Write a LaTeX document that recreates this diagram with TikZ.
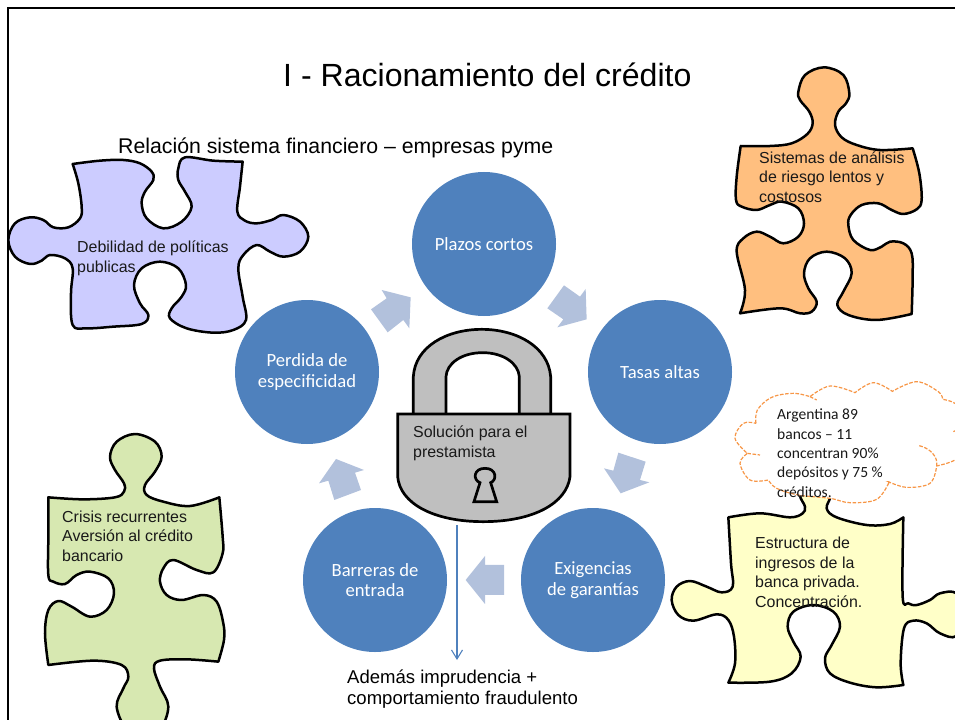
\documentclass[tikz,border=0pt]{standalone}
\usepackage{fontspec}
\setmainfont{Liberation Sans}
\newfontfamily\carlito{Carlito}
\usetikzlibrary{arrows.meta}
\definecolor{cblue}{HTML}{4F81BD}
\definecolor{arrowblue}{HTML}{B2C1DC}
\definecolor{linkblue}{HTML}{4F81BD}
\definecolor{lockgrey}{HTML}{BFBFBF}
\definecolor{pzpurple}{HTML}{CCCCFF}
\definecolor{pzorange}{HTML}{FFBF7F}
\definecolor{pzgreen}{HTML}{D7E8B1}
\definecolor{pzyellow}{HTML}{FFFFC8}
\definecolor{cloudor}{HTML}{F79646}
\tikzset{
  zoomed/.style 2 args={x=0.33333bp,y=-0.33333bp,shift={(#1bp,-#2bp)}},
  puzzle/.style={draw=black,line width=2.5bp,line join=round},
  sm/.style={smooth,tension=0.6},
  stage/.style={circle,fill=cblue,minimum size=144bp,inner sep=0pt,text=white,align=center,font=\carlito\fontsize{18.7}{20.5}\selectfont},
  flow/.style={fill=arrowblue,draw=none},
  body/.style={anchor=base west,inner sep=0pt,align=left,text=black!90,font=\fontsize{16}{19.5}\selectfont},
  cloudtext/.style={anchor=base west,inner sep=0pt,align=left,text=black!90,font=\carlito\fontsize{15.6}{19.4}\selectfont},
  big/.style={anchor=base west,inner sep=0pt,align=left,text=black,font=\fontsize{18.6}{21}\selectfont},
  cloudline/.style={draw=cloudor,line width=1.2bp,dash pattern=on 3.6bp off 1.6bp},
  lockpart/.style={fill=lockgrey,draw=black,line width=2.7bp,line join=miter},
}
\begin{document}
\begin{tikzpicture}[x=1bp,y=-1bp]
\useasboundingbox (0,0) rectangle (955,720);
\clip (0,0) rectangle (955,720);
% frame
\draw[line width=2.4bp,draw=black] (8,720) -- (8,8) -- (955,8);

% purple puzzle
\begin{scope}[zoomed={0}{140}]
\draw[puzzle,fill=pzpurple]
 plot[sm] coordinates {(218,72)(300,62)(370,60)(420,70)(455,95)(460,120)(435,155)(425,190)(440,235)(490,265)(545,245)(575,200)(555,155)(535,120)(535,85)(555,52)(640,62)(728,65)}
 -- plot[sm] coordinates {(728,65)(720,140)(712,215)(735,242)(770,250)(815,240)(850,225)(900,245)(925,290)(900,335)(850,350)(810,335)(770,315)(730,345)(715,385)(728,470)(738,540)(700,570)(640,578)(560,565)(510,535)(515,505)(545,470)(558,435)(535,385)(480,365)(425,385)(402,435)(420,490)(445,525)(425,552)(340,560)(260,565)(218,555)(213,460)(218,385)(195,355)(150,345)(125,362)(90,372)(45,350)(25,300)(45,250)(90,232)(130,240)(160,262)(205,262)(240,235)(245,200)(235,130)(218,72)} -- cycle;
\end{scope}

% orange puzzle
\begin{scope}[zoomed={720}{60}]
\draw[puzzle,fill=pzorange]
 plot[sm] coordinates {(62,258)(150,258)(215,250)(262,222)(278,190)(268,155)(240,120)(235,95)(255,45)(312,22)(370,45)(388,100)(378,130)(355,155)(345,195)(365,232)(410,255)(480,270)(578,265)}
 -- plot[sm] coordinates {(578,265)(598,340)(605,420)(590,448)(550,462)(515,450)(475,430)(425,435)(392,465)(385,495)(400,540)(450,570)(485,560)(510,545)(550,550)(575,580)(578,650)(575,762)}
 -- plot[sm] coordinates {(575,762)(470,780)(385,765)(352,735)(370,695)(395,640)(375,595)(320,575)(270,595)(252,640)(265,685)(290,725)(275,755)(240,760)(180,745)(60,760)}
 -- plot[sm] coordinates {(60,760)(75,690)(50,575)(70,535)(110,515)(150,530)(190,550)(235,530)(252,490)(235,445)(185,425)(150,435)(110,450)(65,440)(48,420)(50,350)(62,258)} -- cycle;
\end{scope}

% green puzzle
\begin{scope}[zoomed={0}{420}]
\draw[puzzle,fill=pzgreen]
 plot[sm] coordinates {(145,232)(250,238)(345,232)(372,215)(372,190)(345,150)(330,110)(350,65)(405,42)(465,65)(485,110)(465,155)(435,195)(440,225)(490,245)(570,258)(658,232)}
 -- plot[sm] coordinates {(658,232)(668,350)(668,400)(640,457)(590,450)(520,420)(490,445)(480,485)(500,525)(545,540)(610,525)(650,545)(670,610)(672,660)(655,725)}
 -- plot[sm] coordinates {(655,725)(560,718)(480,722)(462,745)(480,800)(505,860)(480,930)(430,960)(380,930)(350,860)(370,805)(385,770)(365,735)(280,722)(145,735)}
 -- plot[sm] coordinates {(145,735)(135,640)(145,570)(175,543)(215,560)(270,590)(320,570)(342,520)(325,475)(270,455)(230,465)(195,492)(160,485)(145,465)(145,350)(145,232)} -- cycle;
\end{scope}

% yellow puzzle
\begin{scope}[zoomed={660}{380}]
\draw[puzzle,fill=pzyellow]
 plot[sm] coordinates {(205,412)(300,400)(390,412)(428,400)(435,380)(420,345)(440,310)(490,310)(512,345)(500,385)(530,412)(620,435)(690,432)(730,412)}
 -- plot[sm] coordinates {(730,412)(728,650)(745,670)(770,675)(810,660)(840,640)(890,640)(925,700)(890,768)(840,760)(800,730)(760,722)(732,745)(722,850)(730,915)}
 -- plot[sm] coordinates {(730,915)(650,922)(570,908)(510,880)(495,835)(515,795)(540,740)(520,695)(460,675)(400,695)(383,740)(400,785)(422,830)(395,880)(330,905)(205,908)}
 -- plot[sm] coordinates {(205,908)(225,850)(222,770)(205,720)(170,703)(100,722)(55,705)(35,660)(50,620)(90,603)(140,620)(185,637)(218,620)(213,550)(205,412)} -- cycle;
% cloud
\draw[cloudline,fill=white]
 plot[sm] coordinates {(288,130)(292,90)(335,52)(400,40)(450,50)}
 -- plot[sm] coordinates {(450,50)(510,18)(585,38)}
 -- plot[sm] coordinates {(585,38)(640,8)(697,34)}
 -- plot[sm] coordinates {(697,34)(770,5)(835,35)(848,58)}
 -- plot[sm] coordinates {(848,58)(885,70)(925,110)(930,200)(885,240)(830,258)}
 -- plot[sm] coordinates {(830,258)(810,310)(740,322)(685,305)}
 -- plot[sm] coordinates {(688,305)(650,358)(570,368)(510,355)(415,345)(350,325)(325,300)}
 -- plot[sm] coordinates {(325,300)(270,300)(240,250)(262,220)}
 -- plot[sm] coordinates {(262,220)(225,175)(250,130)(288,130)} -- cycle;
\draw[cloudline] (450,50) -- (470,60);
\draw[cloudline] (778,197) .. controls (810,205) and (835,230) .. (830,258);
\draw[cloudline] (262,220) -- (300,225);
\draw[cloudline] (880,155) -- (890,150);
\end{scope}

% cycle
\node[stage] (plazos) at (484,244) {Plazos cortos};
\node[stage] (tasas) at (660,372) {Tasas altas};
\node[stage] (exig) at (593,580) {Exigencias\\de garantías};
\node[stage] (barr) at (375,580) {Barreras de\\entrada};
\node[stage] (perd) at (307,372) {Perdida de\\especificidad};

\begin{scope}[zoomed={230}{170}]
\fill[flow] (423,418)--(470,385)--(455,360)--(542,382)--(538,475)--(520,450)--(473,487)--cycle;
\fill[flow] (952,415)--(1002,346)--(1050,380)--(1067,357)--(1070,448)--(982,472)--(1000,448)--cycle;
\end{scope}
\begin{scope}[zoomed={300}{280}]
\fill[flow] (955,518)--(1037,545)--(1020,600)--(1048,607)--(962,640)--(912,565)--(940,572)--cycle;
\fill[flow] (612,855)--(612,945)--(555,945)--(555,972)--(497,900)--(555,828)--(555,855)--cycle;
\fill[flow] (183,630)--(103,660)--(85,602)--(57,610)--(108,537)--(192,570)--(165,578)--cycle;
% lock
\draw[lockpart] (340,405) -- (340,290) .. controls (345,200) and (440,148) .. (545,148) .. controls (650,148) and (745,200) .. (752,290) -- (752,405) -- (658,405) -- (658,290) .. controls (655,250) and (610,218) .. (548,218) .. controls (485,218) and (440,250) .. (438,290) -- (438,405) -- cycle;
\draw[lockpart] (293,402) -- (810,402) -- (810,590) .. controls (800,670) and (700,725) .. (550,725) .. controls (400,725) and (300,670) .. (293,590) -- cycle;
\draw[lockpart] (522,665) -- (590,665) -- (572,608) .. controls (592,600) and (590,565) .. (555,565) .. controls (520,565) and (518,600) .. (540,608) -- cycle;
\end{scope}

\coordinate (lockb) at (457,525);
\coordinate (arrowend) at (457,660);
\draw[-{Straight Barb[length=9bp,width=11bp]},draw=linkblue,line width=1.1bp] (lockb) -- (arrowend);

% texts
\node[anchor=base west,inner sep=0pt,font=\fontsize{32.2}{36}\selectfont] (title) at (283,87) {I - Racionamiento del crédito};
\node[anchor=base west,inner sep=0pt,font=\fontsize{21.35}{25}\selectfont] (sub) at (118,154) {Relación sistema financiero – empresas pyme};
\node[body] (tpurple) at (77,272) {Debilidad de políticas\\publicas};
\node[body] (torange) at (759,202) {Sistemas de análisis\\de riesgo lentos y\\costosos};
\node[body] (tgreen) at (62,561) {Crisis recurrentes\\Aversión al crédito\\bancario};
\node[body] (tyellow) at (755,607) {Estructura de\\ingresos de la\\banca privada.\\Concentración.};
\node[cloudtext] (tcloud) at (777,497) {Argentina 89\\bancos – 11\\concentran 90\%\\depósitos y 75 \%\\créditos.};
\node[body] (tlock) at (413,457) {Solución para el\\prestamista};
\node[big] (tademas) at (347,704) {Además imprudencia +\\comportamiento fraudulento};
\end{tikzpicture}
\end{document}
